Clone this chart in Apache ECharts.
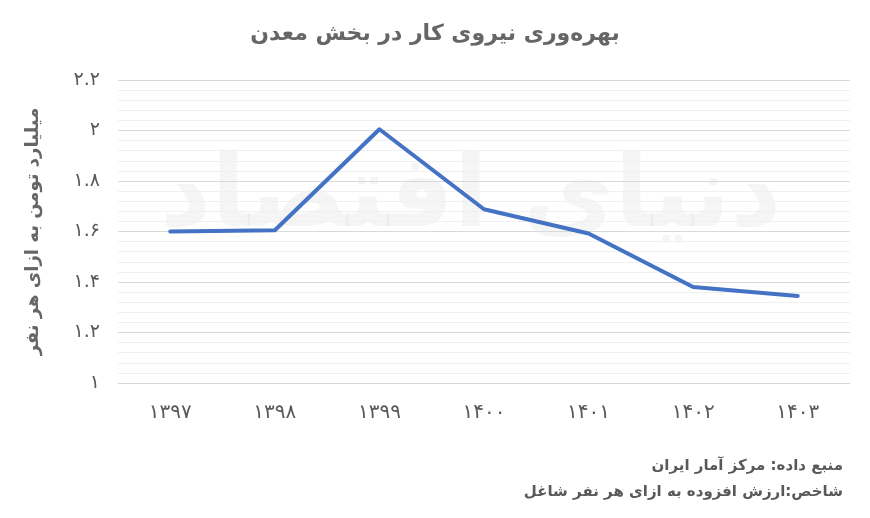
<!DOCTYPE html>
<html lang="fa">
<head>
  <meta charset="UTF-8">
  <title>بهره‌وری نیروی کار در بخش معدن</title>
  <script src="https://cdn.jsdelivr.net/npm/echarts@6/dist/echarts.min.js"></script>
  <style>
    html, body { margin: 0; padding: 0; background: #fff; }
    #main { width: 870px; height: 518px; }
  </style>
</head>
<body>
  <div id="main"></div>
  <script>
    // data
    var years = ['1397', '1398', '1399', '1400', '1401', '1402', '1403'];
    var productivity = [1.60, 1.605, 2.005, 1.688, 1.592, 1.38, 1.345];
    var yMin = 1, yMax = 2.2, yStep = 0.2;

    var FONT = '"DejaVu Sans", sans-serif';
    var TXT = '#595959';

    // latin digits -> persian digits
    function fa(s) {
      return String(s).replace(/[0-9]/g, function (d) {
        return '۰۱۲۳۴۵۶۷۸۹'[+d];
      });
    }

    var myChart = echarts.init(document.getElementById('main'));

    var option = {
      backgroundColor: '#fff',
      animation: false,
      title: {
        text: 'بهره‌وری نیروی کار در بخش معدن',
        left: 'center',
        top: 18,
        textStyle: { fontFamily: FONT, fontSize: 22, fontWeight: 'bold', color: '#666' }
      },
      grid: { left: 118, right: 20, top: 80, bottom: 135 },
      xAxis: {
        type: 'category',
        data: years,
        boundaryGap: true,
        axisLine: { lineStyle: { color: '#d9d9d9', width: 1 } },
        axisTick: { show: false },
        axisLabel: {
          margin: 20,
          fontFamily: FONT, fontSize: 20, color: TXT,
          formatter: function (v) { return fa(v); }
        }
      },
      yAxis: {
        type: 'value',
        min: yMin,
        max: yMax,
        interval: yStep,
        name: 'میلیارد تومن به ازای هر نفر',
        nameLocation: 'middle',
        nameGap: 76,
        nameRotate: 90,
        nameTextStyle: { fontFamily: FONT, fontSize: 18, fontWeight: 'bold', color: '#666' },
        axisLine: { show: false },
        axisTick: { show: false },
        axisLabel: {
          margin: 18,
          fontFamily: FONT, fontSize: 19, color: TXT,
          formatter: function (v) { return fa(Math.round(v * 10) / 10); }
        },
        splitLine: { lineStyle: { color: '#d9d9d9', width: 1 } },
        minorTick: { show: false, splitNumber: 5 },
        minorSplitLine: { show: true, lineStyle: { color: '#f0f0f0', width: 1 } }
      },
      graphic: [
        {
          // faint watermark
          type: 'text',
          left: 160,
          top: 150,
          z: -1,
          silent: true,
          style: {
            text: 'دنیای اقتصاد',
            font: 'bold 100px ' + FONT,
            fill: 'rgba(0,0,0,0.04)'
          }
        },
        {
          type: 'text',
          right: 27,
          top: 459,
          style: {
            text: 'منبع داده: مرکز آمار ایران',
            font: 'bold 15px ' + FONT,
            fill: TXT,
            align: 'right'
          }
        },
        {
          type: 'text',
          right: 27,
          top: 485,
          style: {
            text: 'شاخص:ارزش افزوده به ازای هر نفر شاغل',
            font: 'bold 15px ' + FONT,
            fill: TXT,
            align: 'right'
          }
        }
      ],
      series: [
        {
          type: 'line',
          data: productivity,
          showSymbol: false,
          symbol: 'none',
          lineStyle: { color: '#4472c4', width: 4, join: 'round', cap: 'round' },
          z: 3
        }
      ]
    };

    myChart.setOption(option);
  </script>
</body>
</html>
